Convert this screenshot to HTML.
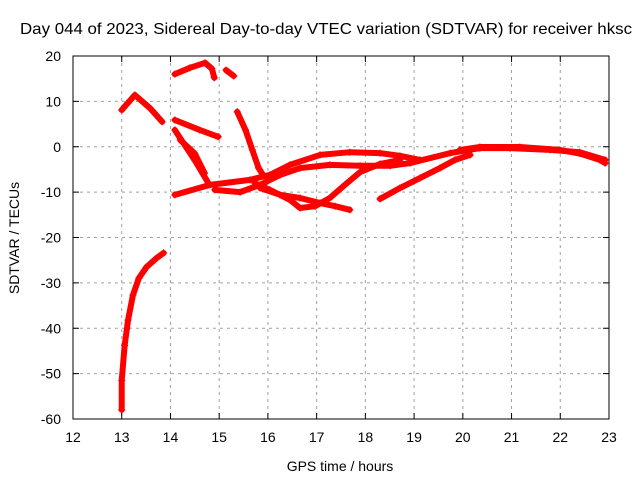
<!DOCTYPE html>
<html><head><meta charset="utf-8"><style>
body{margin:0;background:#fff;}
svg{display:block;font-family:"Liberation Sans",sans-serif;}
</style></head><body>
<svg id="chart" width="640" height="480" viewBox="0 0 640 480">
<rect width="640" height="480" fill="#fff"/>
<text x="20" y="34" font-size="16" textLength="612" lengthAdjust="spacingAndGlyphs">Day 044 of 2023, Sidereal Day-to-day VTEC variation (SDTVAR) for receiver hksc</text>
<text x="340" y="471" font-size="14" text-anchor="middle">GPS time / hours</text>
<text transform="translate(19,238) rotate(-90)" font-size="14" text-anchor="middle">SDTVAR / TECUs</text>
<g id="grid"></g><g id="marks"></g><g id="axes"></g>
</svg>
<script>
const xTicks=[12,13,14,15,16,17,18,19,20,21,22,23];
const yTicks=[20,10,0,-10,-20,-30,-40,-50,-60];
const trackRise=[[13.0,-58],[13.0,-51.5],[13.06,-43.8],[13.13,-38.2],[13.23,-32.7],[13.35,-29],[13.51,-26.5],[13.72,-24.5],[13.86,-23.4]];
const trackHump=[[13.0,8.1],[13.27,11.4],[13.58,8.5],[13.83,5.5]];
const trackTop=[[14.09,16.0],[14.4,17.4],[14.71,18.5],[14.85,17.2],[14.9,15.2]];
const trackShort=[[15.14,16.9],[15.3,15.6]];
const trackMid=[[14.09,5.9],[14.6,3.7],[14.98,2.2]];
const trackFall=[[15.37,7.7],[15.54,3.7],[15.68,-0.7],[15.81,-4.7],[15.9,-6.2]];
const trackDropA=[[14.09,3.7],[14.5,-3],[14.8,-8.4]];
const trackDropB=[[14.2,1.5],[14.5,-1.5],[14.7,-5.8]];
const trackBandA=[[14.09,-10.6],[14.81,-8.4],[15.63,-7.3],[16.04,-6.2],[16.45,-4.0],[17.07,-1.8],[17.68,-1.2],[18.30,-1.4],[18.71,-2.0],[19.12,-2.9]];
const trackBandB=[[14.91,-9.5],[15.43,-10.0],[15.84,-8.4],[16.25,-6.2],[16.66,-4.7],[17.27,-4.0],[17.89,-4.2],[18.51,-4.2],[18.92,-3.6],[19.74,-1.4],[20.35,-0.3],[20.97,-0.3],[21.79,-0.7],[22.40,-1.2],[22.92,-2.9]];
const trackLoopUp=[[15.73,-8.0],[16.04,-9.5],[16.45,-11.7],[16.66,-13.5],[16.97,-13.1],[17.27,-11.3],[17.58,-8.4],[17.89,-5.6],[18.30,-3.8],[18.71,-2.9]];
const trackLoopDown=[[15.84,-9.1],[16.25,-10.6],[16.66,-11.3],[17.07,-12.4],[17.38,-13.1],[17.68,-13.9]];
const trackLate=[[18.30,-11.5],[18.71,-9.1],[19.12,-6.9],[19.53,-4.7],[19.84,-2.9],[20.15,-1.8]];
const trackEnd=[[19.94,-0.7],[20.35,-0.05],[21.17,-0.05],[21.99,-0.7],[22.40,-1.5],[22.81,-2.9],[22.92,-3.6]];
const tracks=[trackRise,trackHump,trackTop,trackShort,trackMid,trackFall,trackDropA,trackDropB,trackBandA,trackBandB,trackLoopUp,trackLoopDown,trackLate,trackEnd];
const X0=73,X1=609,Y0=56,Y1=419;
const sx=h=>X0+(h-12)/(23-12)*(X1-X0);
const sy=v=>Y0+(20-v)/80*(Y1-Y0);
const NS="http://www.w3.org/2000/svg";
function mk(t,a,p){const e=document.createElementNS(NS,t);for(const k in a)e.setAttribute(k,a[k]);p.appendChild(e);return e;}
const grid=document.getElementById('grid'),axes=document.getElementById('axes'),marks=document.getElementById('marks');
xTicks.forEach(t=>{const x=sx(t);
 if(t>12&&t<23){const g=mk('line',{x1:x,x2:x,y1:Y0,y2:Y1,stroke:'#a0a0a0','stroke-dasharray':'3,4'},grid);
 
 }
 mk('line',{x1:x,x2:x,y1:Y1,y2:Y1-6,stroke:'#000'},axes);mk('line',{x1:x,x2:x,y1:Y0,y2:Y0+6,stroke:'#000'},axes);
 const l=mk('text',{x:x,y:Y1+23,'font-size':14,'text-anchor':'middle'},axes);l.textContent=t;
 
 });
yTicks.forEach(t=>{const y=sy(t);
 if(t<20&&t>-60){const g=mk('line',{x1:X0,x2:X1,y1:y,y2:y,stroke:'#a0a0a0','stroke-dasharray':'3,4'},grid);
 
 }
 mk('line',{x1:X0,x2:X0+6,y1:y,y2:y,stroke:'#000'},axes);mk('line',{x1:X1,x2:X1-6,y1:y,y2:y,stroke:'#000'},axes);
 const l=mk('text',{x:X0-12,y:y+5,'font-size':14,'text-anchor':'end'},axes);l.textContent=t;
 
 });
const fr=mk('rect',{x:X0,y:Y0,width:X1-X0,height:Y1-Y0,fill:'none',stroke:'#000'},axes);


tracks.forEach(tr=>{
 const pl=mk('polyline',{points:tr.map(p=>sx(p[0])+','+sy(p[1])).join(' '),fill:'none',stroke:'#f00','stroke-width':6,'stroke-linejoin':'round','stroke-linecap':'round'},marks);
 
 
 tr.forEach(p=>{const x=sx(p[0]),y=sy(p[1]);
  const m=mk('path',{d:`M${x-3.5},${y}H${x+3.5}M${x},${y-3.5}V${y+3.5}`,stroke:'#f00','stroke-width':1.2},marks);
  
  });
});
</script>
</body></html>
